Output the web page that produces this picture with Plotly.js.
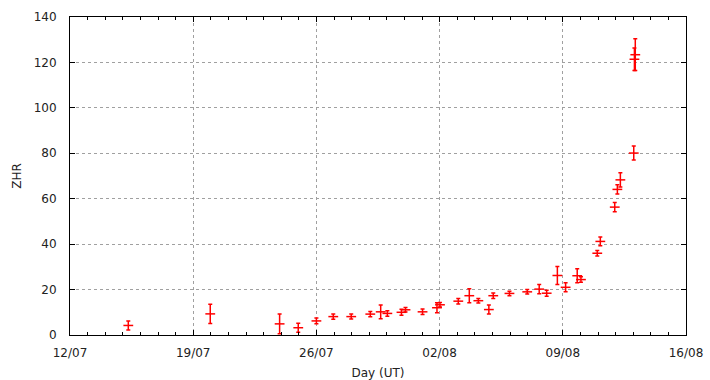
<!DOCTYPE html>
<html><head><meta charset="utf-8">
<script src="https://cdn.plot.ly/plotly-3.0.1.min.js"></script>
<style>body{margin:0;background:#fff}#c{width:710px;height:380px}</style>
</head><body><div id="c"></div>
<script>
const times = ["2021-07-15 07:30","2021-07-19 23:15","2021-07-23 21:50","2021-07-24 23:15","2021-07-26 00:00","2021-07-26 23:00","2021-07-27 23:30","2021-07-29 01:30","2021-07-29 15:40","2021-07-30 00:45","2021-07-30 20:00","2021-07-31 01:30","2021-08-01 00:45","2021-08-01 20:25","2021-08-02 00:30","2021-08-03 01:30","2021-08-03 16:30","2021-08-04 04:50","2021-08-04 19:10","2021-08-05 01:10","2021-08-05 23:15","2021-08-06 23:30","2021-08-07 15:50","2021-08-08 02:00","2021-08-08 16:35","2021-08-09 03:50","2021-08-09 19:40","2021-08-10 00:45","2021-08-10 23:00","2021-08-11 03:10","2021-08-11 22:50","2021-08-12 02:25","2021-08-12 06:30","2021-08-13 00:45","2021-08-13 02:50","2021-08-13 01:40"];
const zhr = [4.2,9.3,4.9,3.2,6.2,8.1,8.1,9.2,10.2,9.5,10.0,11.1,10.2,12.0,13.3,14.9,17.3,15.1,11.2,17.3,18.3,19.0,20.2,18.4,26.2,21.0,26.1,24.4,36.0,41.2,56.3,64.1,68.3,80.1,123.4,121.4];
const errs = [2.0,4.2,4.3,2.0,1.3,1.2,1.1,1.2,3.0,1.2,1.3,1.0,1.2,2.2,1.0,1.2,3.1,1.0,2.0,1.2,1.0,1.0,2.0,1.3,4.0,2.0,3.1,1.2,1.2,1.9,2.0,2.0,3.1,3.1,7.0,5.0];
const xTickVals = ["2021-07-12","2021-07-19","2021-07-26","2021-08-02","2021-08-09","2021-08-16"];
const xTickText = ["12/07","19/07","26/07","02/08","09/08","16/08"];

const font = {family: "DejaVu Sans, Verdana, sans-serif", size: 12, color: "#222"};
Plotly.newPlot("c", [{
  type: "scatter", mode: "markers", x: times, y: zhr,
  marker: {symbol: "line-ew", size: 7, color: "#ff0000", line: {color: "#ff0000", width: 1.5}},
  error_y: {type: "data", array: errs, visible: true, color: "#ff0000", thickness: 1.5, width: 2}
}], {
  width: 710, height: 380,
  margin: {l: 70, r: 24, t: 17, b: 45},
  paper_bgcolor: "#fff", plot_bgcolor: "#fff",
  font: font, showlegend: false,
  xaxis: {
    type: "date", range: ["2021-07-12", "2021-08-16"],
    tickmode: "array", tickvals: xTickVals, ticktext: xTickText,
    ticks: "inside", ticklen: 5, tickcolor: "#000",
    minor: {dtick: 86400000, tick0: "2021-07-12", ticks: "inside", ticklen: 3, tickcolor: "#000", showgrid: false},
    showgrid: true, gridcolor: "#a0a0a0", griddash: "3px,3px", gridwidth: 1,
    showline: true, linecolor: "#000", linewidth: 1, mirror: "allticks",
    zeroline: false, ticklabelstandoff: 7,
    title: {text: "Day (UT)", font: font, standoff: 11}
  },
  yaxis: {
    range: [0, 140], tickmode: "linear", tick0: 0, dtick: 20,
    ticks: "inside", ticklen: 5, tickcolor: "#000",
    showgrid: true, gridcolor: "#a0a0a0", griddash: "3px,3px", gridwidth: 1,
    showline: true, linecolor: "#000", linewidth: 1, mirror: "allticks",
    zeroline: false, ticklabelstandoff: 10,
    title: {text: "ZHR", font: font, standoff: 9}
  }
}, {staticPlot: true});
</script></body></html>
